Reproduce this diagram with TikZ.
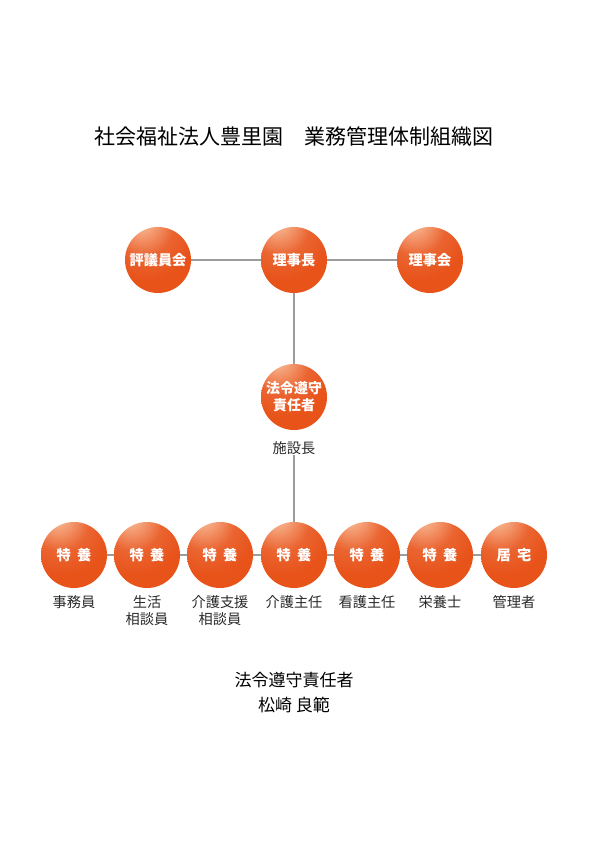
\documentclass[tikz,border=0pt]{standalone}
\usepackage{fontspec}
\setmainfont{Noto Sans CJK JP}
\usetikzlibrary{calc}
\definecolor{ballorange}{HTML}{E8531A}
\definecolor{balllight}{HTML}{F7B08A}
\definecolor{linegray}{HTML}{9C9C9C}
\definecolor{txtgray}{HTML}{2A2A2A}
\pgfdeclareradialshading{orangeball}{\pgfpoint{-14bp}{32bp}}{%
  color(0bp)=(white);
  color(6bp)=(balllight);
  color(22bp)=(ballorange!90!white);
  color(36bp)=(ballorange);
  color(100bp)=(ballorange)}
\tikzset{
  ball/.style={circle, minimum size=66pt, inner sep=0pt, shading=orangeball,
    text=white, font=\fontsize{14.2}{16}\selectfont\bfseries, align=center},
  conn/.style={draw=linegray, line width=2.8pt},
  lbl/.style={text=txtgray, font=\fontsize{14.2}{17}\selectfont, align=center, anchor=north, inner sep=0pt},
}
\newcommand{\toku}{特\hspace{0.45em}養}
\begin{document}
\begin{tikzpicture}[x=1pt,y=-1pt]
\useasboundingbox (0,0) rectangle (595,842);
\fill[white] (0,0) rectangle (595,842);
\node[text=black, font=\fontsize{21}{25}\selectfont] (title) at (294,137) {社会福祉法人豊里園\hspace{1em}業務管理体制組織図};
% top row
\coordinate (c1) at (158,260);
\coordinate (c2) at (294,260);
\coordinate (c3) at (430,260);
\coordinate (cm) at (294,397);
\draw[conn] (c1) -- (c3);
\draw[conn] (c2) -- (cm);
\coordinate (b1) at (74,555);
\coordinate (b7) at (514,555);
\draw[conn] (b1) -- (b7);
\node[ball] (hyogi) at (c1) {評議員会};
\node[ball] (rijicho) at (c2) {理事長};
\node[ball] (rijikai) at (c3) {理事会};
\node[ball, font=\fontsize{14}{17}\selectfont\bfseries] (horei) at (cm) {法令遵守\\責任者};
\node[lbl] (shisetsu) at (294,441.5) {施設長};
% bottom row
\node[ball] (t1) at (74,555) {\toku};
\node[ball] (t2) at (147,555) {\toku};
\node[ball] (t3) at (220,555) {\toku};
\node[ball] (t4) at (294,555) {\toku};
\node[ball] (t5) at (367,555) {\toku};
\node[ball] (t6) at (440,555) {\toku};
\node[ball] (t7) at (514,555) {居\hspace{0.45em}宅};
\draw[conn] (shisetsu) -- (t4);
\node[lbl] at (74,595.5) {事務員};
\node[lbl] at (147,595.5) {生活\\相談員};
\node[lbl] at (220,595.5) {介護支援\\相談員};
\node[lbl] at (294,595.5) {介護主任};
\node[lbl] at (367,595.5) {看護主任};
\node[lbl] at (440,595.5) {栄養士};
\node[lbl] at (514,595.5) {管理者};
\node[text=black, font=\fontsize{17}{25}\selectfont, align=center] (resp) at (294,693) {法令遵守責任者\\松崎 良範};
\end{tikzpicture}
\end{document}
